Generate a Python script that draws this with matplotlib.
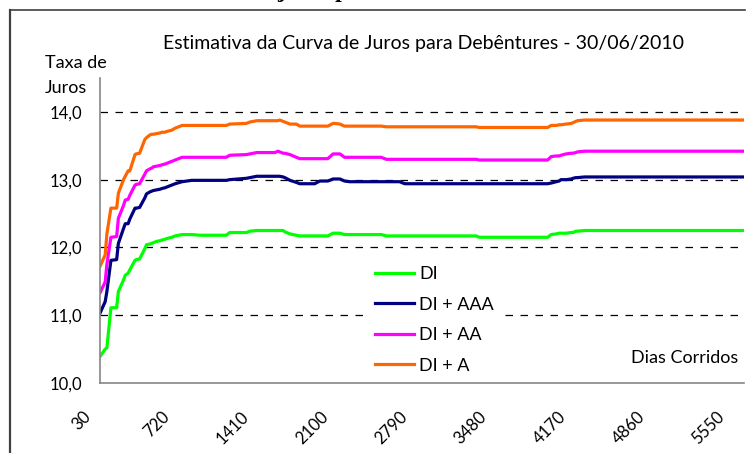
import matplotlib
matplotlib.use("Agg")
import matplotlib.pyplot as plt
from matplotlib.lines import Line2D
from matplotlib.transforms import ScaledTranslation, blended_transform_factory

plt.rcParams['font.family'] = ['Lato', 'DejaVu Sans']

# Dias corridos (vértices)
dias = [30, 75, 90, 125, 175, 190, 235, 250, 275, 290, 335, 345, 375, 420, 435,
        465, 480, 495, 525, 555, 570, 595, 610, 655, 685, 745, 830, 900, 1130,
        1160, 1305, 1335, 1395, 1420, 1555, 1580, 1595, 1625, 1640, 1685, 1740,
        1770, 1900, 1945, 2015, 2060, 2075, 2120, 2160, 2205, 2480, 2525, 2640,
        2685, 3305, 3335, 3930, 3960, 4005, 4030, 4045, 4090, 4135, 4150, 4175,
        4190, 4250, 5640]

di = [10.39, 10.50, 10.52, 11.11, 11.11, 11.35, 11.52, 11.59, 11.62, 11.67, 11.81,
      11.82, 11.83, 11.98, 12.04, 12.05, 12.06, 12.07, 12.09, 12.10, 12.11, 12.12,
      12.13, 12.15, 12.17, 12.19, 12.19, 12.18, 12.18, 12.22, 12.22, 12.24, 12.25,
      12.25, 12.25, 12.25, 12.25, 12.25, 12.23, 12.20, 12.18, 12.17, 12.17, 12.17,
      12.17, 12.21, 12.21, 12.21, 12.19, 12.19, 12.19, 12.17, 12.17, 12.17, 12.17,
      12.15, 12.15, 12.19, 12.20, 12.21, 12.21, 12.21, 12.22, 12.22, 12.24, 12.24,
      12.25, 12.25]

di_aaa = [11.03, 11.20, 11.35, 11.81, 11.82, 12.06, 12.28, 12.35, 12.35, 12.42,
          12.58, 12.58, 12.59, 12.73, 12.79, 12.82, 12.83, 12.84, 12.85, 12.86,
          12.87, 12.88, 12.89, 12.92, 12.94, 12.97, 12.99, 12.99, 12.99, 13.00,
          13.02, 13.03, 13.05, 13.05, 13.05, 13.05, 13.05, 13.04, 13.03, 12.99,
          12.96, 12.94, 12.94, 12.98, 12.98, 13.01, 13.01, 13.01, 12.98, 12.97,
          12.97, 12.97, 12.97, 12.94, 12.94, 12.94, 12.94, 12.95, 12.97, 12.98,
          13.00, 13.00, 13.01, 13.02, 13.03, 13.03, 13.04, 13.04]

di_aa = [11.33, 11.49, 11.75, 12.15, 12.16, 12.43, 12.62, 12.70, 12.71, 12.77,
         12.92, 12.93, 12.94, 13.08, 13.13, 13.16, 13.17, 13.19, 13.20, 13.21,
         13.22, 13.23, 13.24, 13.27, 13.29, 13.33, 13.33, 13.33, 13.33, 13.36,
         13.37, 13.38, 13.40, 13.40, 13.40, 13.42, 13.41, 13.39, 13.39, 13.37,
         13.33, 13.31, 13.31, 13.31, 13.31, 13.38, 13.38, 13.38, 13.33, 13.33,
         13.33, 13.30, 13.30, 13.30, 13.30, 13.29, 13.29, 13.34, 13.35, 13.35,
         13.36, 13.38, 13.39, 13.39, 13.40, 13.41, 13.42, 13.42]

di_a = [11.72, 11.89, 12.20, 12.58, 12.58, 12.80, 13.00, 13.05, 13.13, 13.13,
        13.37, 13.38, 13.39, 13.59, 13.62, 13.66, 13.67, 13.67, 13.68, 13.69,
        13.70, 13.70, 13.71, 13.73, 13.76, 13.80, 13.80, 13.80, 13.80, 13.82,
        13.83, 13.85, 13.87, 13.87, 13.87, 13.87, 13.88, 13.86, 13.85, 13.82,
        13.82, 13.79, 13.79, 13.79, 13.79, 13.83, 13.83, 13.82, 13.79, 13.79,
        13.79, 13.78, 13.78, 13.78, 13.78, 13.77, 13.77, 13.80, 13.80, 13.81,
        13.81, 13.82, 13.83, 13.84, 13.86, 13.87, 13.88, 13.88]

series = ['DI', 'DI + AAA', 'DI + AA', 'DI + A']
cores = ['#00FF00', '#000080', '#FF00FF', '#FF6600']
rotulos_x = [30, 720, 1410, 2100, 2790, 3480, 4170, 4860, 5550]
rotulos_y = [10, 11, 12, 13, 14]

W, H = 748, 453
fig = plt.figure(figsize=(W / 100, H / 100), dpi=100)

# Moldura (só as bordas esquerda e superior aparecem no recorte)
fig.add_artist(Line2D([10 / W, 10 / W], [0, 1 - 10 / H], color='#404040', lw=1.6))
fig.add_artist(Line2D([10 / W, 745 / W], [1 - 10 / H, 1 - 10 / H], color='#404040', lw=1.2))

# Título do documento, cortado no topo
fig.text(277 / W, 1 + 3 / H, 'juros para', fontsize=17, fontweight='bold',
         family='Liberation Serif', va='baseline', ha='left')

ax = fig.add_axes([100 / W, 1 - 383 / H, 644 / W, 305 / H])

for valores, nome, cor in zip([di, di_aaa, di_aa, di_a], series, cores):
    ax.plot(dias, valores, color=cor, lw=2.3, label=nome, solid_joinstyle='round')

ax.set_xlim(30, 5640)
ax.set_ylim(10, 14.5)

# Rótulos do eixo X inclinados a 45°, escritos à mão para poder deslocá-los
ax.set_xticks(rotulos_x)
ax.set_xticklabels([])
trans_x = blended_transform_factory(ax.transData, ax.transAxes) + \
    ScaledTranslation(-12 / 100, -31 / 100, fig.dpi_scale_trans)
for v in rotulos_x:
    ax.text(v, 0, str(v), transform=trans_x, rotation=45, ha='right', va='center',
            rotation_mode='anchor', fontsize=12)

ax.set_yticks(rotulos_y)
ax.set_yticklabels([f'{v:.1f}'.replace('.', ',') for v in rotulos_y], fontsize=12)
ax.tick_params(axis='x', length=0)
ax.tick_params(axis='y', length=0, pad=13)

# Grade horizontal tracejada
for v in rotulos_y[1:]:
    ax.axhline(v, xmax=0.99, color='black', lw=0.9, ls=(0, (6, 6)), zorder=0)

for lado in ['top', 'right']:
    ax.spines[lado].set_visible(False)
for lado in ['left', 'bottom']:
    ax.spines[lado].set_color('#868686')
    ax.spines[lado].set_linewidth(1.2)

fig.text(423 / W, 1 - 43 / H, 'Estimativa da Curva de Juros para Debêntures - 30/06/2010',
         fontsize=14, ha='center', va='center')
fig.text(45 / W, 1 - 63 / H, 'Taxa de', fontsize=13, va='center', ha='left')
fig.text(45 / W, 1 - 88 / H, 'Juros', fontsize=13, va='center', ha='left')
fig.text(738 / W, 1 - 358 / H, 'Dias Corridos', fontsize=13, va='center', ha='right')

leg = ax.legend(loc='upper left', bbox_to_anchor=(368 / W, 1 - 259 / H),
                bbox_transform=fig.transFigure, fontsize=13, handlelength=2.15,
                handletextpad=0.3, labelspacing=0.80, borderaxespad=0,
                fancybox=False, framealpha=1, edgecolor='none')

fig.savefig('out.png', dpi=100)
